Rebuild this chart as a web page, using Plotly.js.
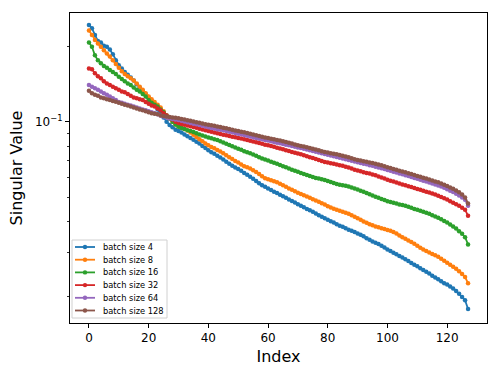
<!DOCTYPE html>
<html>
<head>
<meta charset="utf-8">
<script src="https://cdn.plot.ly/plotly-3.0.1.min.js"></script>
<style>
  html, body { margin: 0; padding: 0; background: #fff; }
  #chart { width: 498px; height: 374px; }
</style>
</head>
<body>
<div id="chart"></div>
<script>
// Series labels and tab10 colours
const labels = ['batch size 4', 'batch size 8', 'batch size 16', 'batch size 32', 'batch size 64', 'batch size 128'];
const colors = ['#1f77b4', '#ff7f0e', '#2ca02c', '#d62728', '#9467bd', '#8c564b'];

// Singular values, index 0..127
const bs4 = [
  0.243, 0.236, 0.222, 0.210, 0.207, 0.201, 0.199, 0.194, 0.186, 0.176,
  0.168, 0.163, 0.158, 0.154, 0.150, 0.146, 0.141, 0.137, 0.133, 0.129,
  0.125, 0.121, 0.117, 0.112, 0.108, 0.104, 0.100, 0.097, 0.095, 0.093,
  0.0918, 0.0905, 0.0890, 0.0875, 0.0862, 0.0848, 0.0832, 0.0818, 0.0800, 0.0785,
  0.0770, 0.0756, 0.0745, 0.0732, 0.0720, 0.0707, 0.0693, 0.0680, 0.0668, 0.0656,
  0.0648, 0.0637, 0.0625, 0.0615, 0.0603, 0.0592, 0.0580, 0.0568, 0.0558, 0.0550,
  0.0542, 0.0534, 0.0526, 0.0519, 0.0511, 0.0504, 0.0497, 0.0490, 0.0483, 0.0476,
  0.0469, 0.0462, 0.0456, 0.0449, 0.0443, 0.0437, 0.0430, 0.0424, 0.0418, 0.0412,
  0.0406, 0.0401, 0.0396, 0.0390, 0.0385, 0.0381, 0.0376, 0.0371, 0.0367, 0.0363,
  0.0358, 0.0354, 0.0349, 0.0343, 0.0338, 0.0333, 0.0329, 0.0325, 0.0320, 0.0315,
  0.0309, 0.0305, 0.0300, 0.0296, 0.0291, 0.0287, 0.0283, 0.0278, 0.0273, 0.0269,
  0.0265, 0.0260, 0.0256, 0.0252, 0.0248, 0.0243, 0.0239, 0.0235, 0.0231, 0.0227,
  0.0224, 0.0220, 0.0216, 0.0211, 0.0206, 0.0200, 0.0194, 0.0179
];
const bs8 = [
  0.231, 0.222, 0.212, 0.205, 0.199, 0.193, 0.187, 0.182, 0.176, 0.170,
  0.164, 0.159, 0.155, 0.152, 0.149, 0.146, 0.142, 0.138, 0.134, 0.130,
  0.126, 0.123, 0.120, 0.117, 0.114, 0.110, 0.106, 0.103, 0.100, 0.0975,
  0.0960, 0.0948, 0.0935, 0.0922, 0.0905, 0.0888, 0.0870, 0.0852, 0.0835, 0.0818,
  0.0805, 0.0793, 0.0783, 0.0772, 0.0760, 0.0748, 0.0735, 0.0722, 0.0710, 0.0697,
  0.0687, 0.0675, 0.0665, 0.0658, 0.0650, 0.0640, 0.0630, 0.0618, 0.0606, 0.0595,
  0.0590, 0.0584, 0.0579, 0.0574, 0.0566, 0.0558, 0.0550, 0.0542, 0.0535, 0.0528,
  0.0521, 0.0515, 0.0509, 0.0503, 0.0497, 0.0491, 0.0485, 0.0479, 0.0473, 0.0467,
  0.0460, 0.0455, 0.0450, 0.0445, 0.0441, 0.0437, 0.0433, 0.0429, 0.0424, 0.0418,
  0.0412, 0.0406, 0.0400, 0.0395, 0.0390, 0.0386, 0.0382, 0.0379, 0.0376, 0.0373,
  0.0370, 0.0367, 0.0363, 0.0358, 0.0352, 0.0346, 0.0341, 0.0336, 0.0331, 0.0326,
  0.0320, 0.0314, 0.0309, 0.0305, 0.0301, 0.0297, 0.0293, 0.0289, 0.0284, 0.0279,
  0.0274, 0.0269, 0.0264, 0.0259, 0.0253, 0.0247, 0.0240, 0.0227
];
const bs16 = [
  0.207, 0.199, 0.184, 0.176, 0.171, 0.167, 0.164, 0.161, 0.158, 0.155,
  0.151, 0.148, 0.145, 0.142, 0.140, 0.137, 0.134, 0.132, 0.129, 0.126,
  0.122, 0.119, 0.117, 0.115, 0.112, 0.109, 0.106, 0.103, 0.100, 0.0975,
  0.0955, 0.0945, 0.0935, 0.0925, 0.0918, 0.0910, 0.0900, 0.0890, 0.0882, 0.0874,
  0.0866, 0.0859, 0.0852, 0.0845, 0.0836, 0.0826, 0.0816, 0.0807, 0.0798, 0.0789,
  0.0781, 0.0773, 0.0762, 0.0755, 0.0748, 0.0740, 0.0731, 0.0722, 0.0714, 0.0707,
  0.0700, 0.0693, 0.0686, 0.0679, 0.0672, 0.0665, 0.0658, 0.0651, 0.0644, 0.0637,
  0.0631, 0.0625, 0.0619, 0.0613, 0.0607, 0.0602, 0.0597, 0.0593, 0.0589, 0.0585,
  0.0580, 0.0575, 0.0570, 0.0565, 0.0561, 0.0558, 0.0555, 0.0551, 0.0546, 0.0541,
  0.0536, 0.0531, 0.0526, 0.0520, 0.0514, 0.0508, 0.0502, 0.0497, 0.0492, 0.0487,
  0.0482, 0.0478, 0.0475, 0.0472, 0.0468, 0.0465, 0.0462, 0.0458, 0.0454, 0.0449,
  0.0445, 0.0441, 0.0437, 0.0433, 0.0429, 0.0424, 0.0419, 0.0414, 0.0408, 0.0402,
  0.0396, 0.0389, 0.0382, 0.0375, 0.0366, 0.0357, 0.0346, 0.0324
];
const bs32 = [
  0.163, 0.162, 0.156, 0.152, 0.149, 0.145, 0.142, 0.140, 0.138, 0.136,
  0.134, 0.132, 0.131, 0.129, 0.127, 0.125, 0.124, 0.123, 0.122, 0.120,
  0.118, 0.116, 0.115, 0.113, 0.111, 0.108, 0.106, 0.104, 0.102, 0.100,
  0.0988, 0.0980, 0.0973, 0.0966, 0.0960, 0.0953, 0.0946, 0.0938, 0.0931, 0.0924,
  0.0918, 0.0912, 0.0906, 0.0900, 0.0894, 0.0888, 0.0883, 0.0877, 0.0872, 0.0867,
  0.0862, 0.0857, 0.0852, 0.0846, 0.0840, 0.0834, 0.0828, 0.0822, 0.0816, 0.0810,
  0.0805, 0.0800, 0.0794, 0.0788, 0.0782, 0.0776, 0.0770, 0.0764, 0.0758, 0.0752,
  0.0747, 0.0741, 0.0735, 0.0728, 0.0722, 0.0716, 0.0710, 0.0703, 0.0697, 0.0691,
  0.0687, 0.0683, 0.0679, 0.0675, 0.0671, 0.0667, 0.0662, 0.0656, 0.0650, 0.0644,
  0.0639, 0.0634, 0.0629, 0.0625, 0.0621, 0.0616, 0.0611, 0.0605, 0.0599, 0.0593,
  0.0587, 0.0582, 0.0577, 0.0572, 0.0567, 0.0562, 0.0558, 0.0553, 0.0549, 0.0544,
  0.0539, 0.0535, 0.0530, 0.0526, 0.0522, 0.0517, 0.0512, 0.0507, 0.0501, 0.0495,
  0.0489, 0.0482, 0.0475, 0.0469, 0.0462, 0.0454, 0.0445, 0.0422
];
const bs64 = [
  0.140, 0.138, 0.136, 0.134, 0.132, 0.130, 0.128, 0.126, 0.124, 0.122,
  0.120, 0.119, 0.118, 0.117, 0.116, 0.115, 0.114, 0.113, 0.112, 0.111,
  0.110, 0.109, 0.108, 0.107, 0.106, 0.105, 0.104, 0.103, 0.1025, 0.102,
  0.1015, 0.1008, 0.1002, 0.0995, 0.0988, 0.0982, 0.0976, 0.0970, 0.0963, 0.0956,
  0.0950, 0.0944, 0.0939, 0.0934, 0.0929, 0.0924, 0.0919, 0.0913, 0.0907, 0.0901,
  0.0896, 0.0891, 0.0886, 0.0880, 0.0874, 0.0868, 0.0862, 0.0856, 0.0851, 0.0846,
  0.0841, 0.0836, 0.0830, 0.0825, 0.0820, 0.0815, 0.0810, 0.0805, 0.0800, 0.0795,
  0.0790, 0.0785, 0.0780, 0.0775, 0.0770, 0.0765, 0.0759, 0.0753, 0.0748, 0.0743,
  0.0738, 0.0733, 0.0728, 0.0723, 0.0718, 0.0714, 0.0709, 0.0704, 0.0699, 0.0694,
  0.0689, 0.0684, 0.0680, 0.0676, 0.0671, 0.0667, 0.0662, 0.0657, 0.0652, 0.0647,
  0.0642, 0.0637, 0.0632, 0.0627, 0.0622, 0.0617, 0.0612, 0.0607, 0.0602, 0.0597,
  0.0592, 0.0587, 0.0582, 0.0577, 0.0572, 0.0567, 0.0562, 0.0557, 0.0551, 0.0545,
  0.0538, 0.0531, 0.0524, 0.0516, 0.0508, 0.0499, 0.0488, 0.0462
];
const bs128 = [
  0.133, 0.130, 0.128, 0.127, 0.125, 0.124, 0.123, 0.122, 0.121, 0.1202,
  0.119, 0.118, 0.117, 0.116, 0.115, 0.114, 0.113, 0.112, 0.111, 0.110,
  0.109, 0.108, 0.1075, 0.107, 0.106, 0.1055, 0.105, 0.1045, 0.104, 0.1037,
  0.1032, 0.1026, 0.1020, 0.1014, 0.1008, 0.1002, 0.0996, 0.0990, 0.0984, 0.0978,
  0.0973, 0.0968, 0.0963, 0.0958, 0.0953, 0.0947, 0.0941, 0.0935, 0.0929, 0.0923,
  0.0918, 0.0913, 0.0908, 0.0902, 0.0896, 0.0890, 0.0884, 0.0878, 0.0872, 0.0866,
  0.0861, 0.0856, 0.0851, 0.0846, 0.0841, 0.0836, 0.0830, 0.0824, 0.0818, 0.0812,
  0.0806, 0.0801, 0.0796, 0.0791, 0.0786, 0.0781, 0.0775, 0.0769, 0.0763, 0.0758,
  0.0753, 0.0749, 0.0745, 0.0741, 0.0737, 0.0732, 0.0727, 0.0721, 0.0715, 0.0709,
  0.0704, 0.0700, 0.0696, 0.0692, 0.0688, 0.0684, 0.0680, 0.0675, 0.0670, 0.0664,
  0.0658, 0.0653, 0.0648, 0.0643, 0.0638, 0.0633, 0.0628, 0.0623, 0.0618, 0.0613,
  0.0608, 0.0603, 0.0598, 0.0593, 0.0588, 0.0583, 0.0578, 0.0573, 0.0567, 0.0561,
  0.0554, 0.0547, 0.0540, 0.0532, 0.0523, 0.0512, 0.0499, 0.0472
];

const xTicks = [0, 20, 40, 60, 80, 100, 120];
const yMinor = [0.02, 0.03, 0.04, 0.05, 0.06, 0.07, 0.08, 0.09, 0.2];

const series = [bs4, bs8, bs16, bs32, bs64, bs128];
const traces = series.map((ys, k) => ({
    x: ys.map((_, i) => i),
    y: ys,
    type: 'scatter',
    mode: 'lines+markers',
    name: labels[k],
    line: { color: colors[k], width: 1.8 },
    marker: { color: colors[k], size: 4.5 }
}));

// matplotlib-style compact legend (plotly's own legend rows are too tall)
// plot area is 417 x 310 px, so paper units = px / size
const PW = 417, PH = 310;
const legTop = 83 / PH, legBot = 5 / PH;
const rowH = 12.7 / PH, firstRow = legTop - 7 / PH;
const shapes = [{
    type: 'rect', xref: 'paper', yref: 'paper',
    x0: 2 / PW, x1: 97 / PW, y0: legBot, y1: legTop,
    line: { color: '#d0d0d0', width: 1 }, fillcolor: 'rgba(255,255,255,0.8)', layer: 'above'
}];
const annotations = [];
labels.forEach((lab, k) => {
    const yy = firstRow - k * rowH;
    shapes.push({
        type: 'line', xref: 'paper', yref: 'paper',
        x0: 5 / PW, x1: 25 / PW, y0: yy, y1: yy,
        line: { color: colors[k], width: 1.8 }, layer: 'above'
    });
    shapes.push({
        type: 'circle', xref: 'paper', yref: 'paper',
        xsizemode: 'pixel', ysizemode: 'pixel', xanchor: 15 / PW, yanchor: yy,
        x0: -2.2, x1: 2.2, y0: -2.2, y1: 2.2,
        fillcolor: colors[k], line: { color: colors[k], width: 0 }, layer: 'above'
    });
    annotations.push({
        xref: 'paper', yref: 'paper', x: 31 / PW, y: yy,
        xanchor: 'left', yanchor: 'middle', showarrow: false,
        text: lab, font: { size: 8.3, color: '#000' }
    });
});

const layout = {
    width: 498, height: 374,
    paper_bgcolor: '#fff', plot_bgcolor: '#fff',
    font: { family: 'DejaVu Sans, sans-serif', color: '#000', size: 12 },
    margin: { l: 70, r: 11, t: 13, b: 51 },
    showlegend: false,
    shapes: shapes,
    annotations: annotations,
    xaxis: {
        range: [-6.35, 133.35],
        tickvals: xTicks,
        ticks: 'outside', ticklen: 4, tickwidth: 1, tickcolor: '#000',
        showgrid: false, zeroline: false,
        showline: true, mirror: true, linecolor: '#000', linewidth: 1,
        title: { text: 'Index', font: { size: 16 }, standoff: 6 },
        tickfont: { size: 12 }
    },
    yaxis: {
        type: 'log',
        range: [Math.log10(0.01574), Math.log10(0.2715)],
        tickvals: [0.1], ticktext: ['10<sup>−1</sup>'],
        ticks: 'outside', ticklen: 4, tickwidth: 1, tickcolor: '#000',
        minor: { tickmode: 'array', tickvals: yMinor, ticks: 'outside', ticklen: 2, tickwidth: 0.8, tickcolor: '#000', showgrid: false },
        showgrid: false, zeroline: false,
        showline: true, mirror: true, linecolor: '#000', linewidth: 1,
        title: { text: 'Singular Value', font: { size: 16 }, standoff: 8 },
        tickfont: { size: 12 }
    }
};

Plotly.newPlot('chart', traces, layout, { displayModeBar: false, staticPlot: true });
</script>
</body>
</html>
